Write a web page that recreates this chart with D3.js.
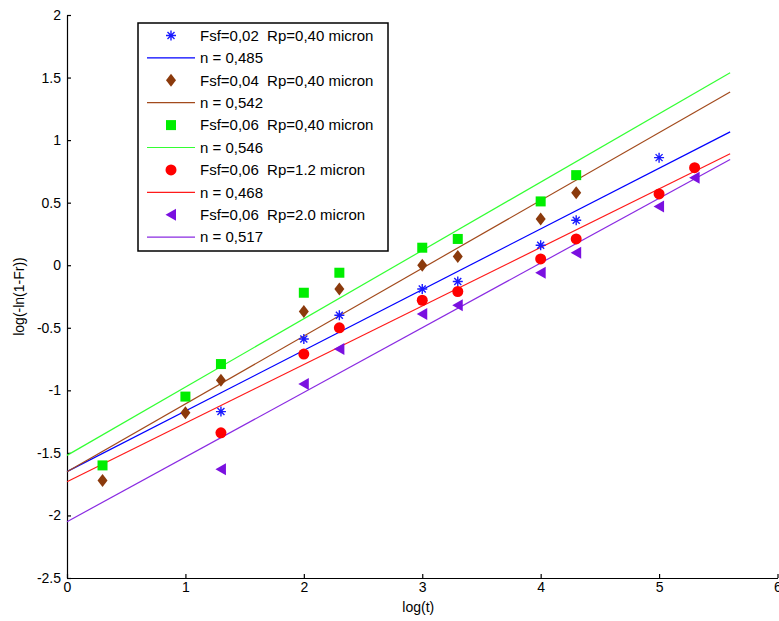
<!DOCTYPE html>
<html>
<head>
<meta charset="utf-8">
<script src="https://cdn.jsdelivr.net/npm/d3@7"></script>
<style>
  body { margin: 0; background: #fff; }
  svg { font-family: "Liberation Sans", Arial, sans-serif; }
</style>
</head>
<body>
<svg width="779" height="621"></svg>
<script>
// measured points, log(t) vs log(-ln(1-Fr))
let tBlue = [1.3, 2, 2.3, 3, 3.3, 4, 4.3, 5];
let yBlue = [-1.17, -0.59, -0.40, -0.19, -0.13, 0.16, 0.36, 0.86];

let tBrown = [0.3, 1, 1.3, 2, 2.3, 3, 3.3, 4, 4.3];
let yBrown = [-1.72, -1.18, -0.92, -0.37, -0.19, 0.0, 0.07, 0.37, 0.58];

let tGreen = [0.3, 1, 1.3, 2, 2.3, 3, 3.3, 4, 4.3];
let yGreen = [-1.60, -1.05, -0.79, -0.22, -0.06, 0.14, 0.21, 0.51, 0.72];

let tRed = [1.3, 2, 2.3, 3, 3.3, 4, 4.3, 5, 5.3];
let yRed = [-1.34, -0.71, -0.50, -0.28, -0.21, 0.05, 0.21, 0.57, 0.78];

let tPurple = [1.3, 2, 2.3, 3, 3.3, 4, 4.3, 5, 5.3];
let yPurple = [-1.63, -0.95, -0.67, -0.39, -0.32, -0.06, 0.10, 0.47, 0.70];

// fitted lines, read at both ends (log t = 0 and 5.6)
let fitT = [0, 5.6];
let fitBlue = [-1.65, 1.066];
let fitBrown = [-1.65, 1.385];
let fitGreen = [-1.52, 1.538];
let fitRed = [-1.73, 0.891];
let fitPurple = [-2.05, 0.845];

let legendLabels = [
  "Fsf=0,02  Rp=0,40 micron", "n = 0,485",
  "Fsf=0,04  Rp=0,40 micron", "n = 0,542",
  "Fsf=0,06  Rp=0,40 micron", "n = 0,546",
  "Fsf=0,06  Rp=1.2 micron", "n = 0,468",
  "Fsf=0,06  Rp=2.0 micron", "n = 0,517"
];

let xTicks = [0, 1, 2, 3, 4, 5, 6];
let yTicks = [-2.5, -2, -1.5, -1, -0.5, 0, 0.5, 1, 1.5, 2];

let series = [
  { t: tBlue, y: yBlue, fit: fitBlue, mark: "star", fill: "#1a1aff", line: "#0000ff" },
  { t: tBrown, y: yBrown, fit: fitBrown, mark: "diamond", fill: "#8b3a0c", line: "#a24a1c" },
  { t: tGreen, y: yGreen, fit: fitGreen, mark: "square", fill: "#00ee00", line: "#33ff33" },
  { t: tRed, y: yRed, fit: fitRed, mark: "circle", fill: "#ff0000", line: "#ff1a1a" },
  { t: tPurple, y: yPurple, fit: fitPurple, mark: "triangle", fill: "#7a10e0", line: "#8a2be2" }
];

let svg = d3.select("svg"),
  margin = { top: 15, right: 1.5, bottom: 43, left: 67 },
  width = +svg.attr("width") - margin.left - margin.right,
  height = +svg.attr("height") - margin.top - margin.bottom;

let x = d3.scaleLinear().domain([0, 6]).range([0, width]),
  y = d3.scaleLinear().domain([-2.5, 2]).range([height, 0]);

let g = svg.append("g")
  .attr("transform", "translate(" + margin.left + "," + margin.top + ")");

// axes, ticks pointing inward
let xAxis = g.append("g")
  .attr("transform", "translate(0," + height + ")")
  .call(d3.axisBottom(x).tickValues(xTicks).tickFormat(d3.format("d"))
    .tickSizeInner(-4).tickSizeOuter(0).tickPadding(4));

let yAxis = g.append("g")
  .call(d3.axisLeft(y).tickValues(yTicks).tickFormat(function (d) { return String(d); })
    .tickSizeInner(-4).tickSizeOuter(0).tickPadding(6));

[xAxis, yAxis].forEach(function (a) {
  a.selectAll("path").attr("stroke", "#000").attr("stroke-width", 1.2);
  a.selectAll("line").attr("stroke", "#000").attr("stroke-width", 1.2);
  a.selectAll("text").attr("fill", "#000").style("font-size", "14px");
});

svg.append("text")
  .attr("x", margin.left + width / 2 - 4)
  .attr("y", 612)
  .attr("text-anchor", "middle")
  .style("font-size", "14px")
  .text("log(t)");

svg.append("text")
  .attr("transform", "translate(24," + (margin.top + height / 2) + ") rotate(-90)")
  .attr("text-anchor", "middle")
  .style("font-size", "14px")
  .text("log(-ln(1-Fr))");

// marker shapes
function marker(sel, kind, color) {
  if (kind === "star") {
    sel.append("path")
      .attr("d", "M-5,0H5M0,-5V5M-3.5,-3.5L3.5,3.5M-3.5,3.5L3.5,-3.5")
      .attr("stroke", color).attr("stroke-width", 1.4).attr("fill", "none");
  } else if (kind === "diamond") {
    sel.append("path").attr("d", "M0,-6.5L5,0L0,6.5L-5,0Z").attr("fill", color);
  } else if (kind === "square") {
    sel.append("rect").attr("x", -5).attr("y", -5).attr("width", 10).attr("height", 10).attr("fill", color);
  } else if (kind === "circle") {
    sel.append("circle").attr("r", 5.5).attr("fill", color);
  } else {
    sel.append("path").attr("d", "M-5.5,0L5,-6L5,6Z").attr("fill", color);
  }
}

let line = d3.line()
  .x(function (d) { return x(d[0]); })
  .y(function (d) { return y(d[1]); });

series.forEach(function (s) {
  g.append("path")
    .datum(fitT.map(function (t, i) { return [t, s.fit[i]]; }))
    .attr("d", line)
    .attr("fill", "none")
    .attr("stroke", s.line)
    .attr("stroke-width", 1.2);
});

series.forEach(function (s) {
  g.selectAll(null)
    .data(s.t.map(function (t, i) { return [t, s.y[i]]; }))
    .enter()
    .append("g")
    .attr("transform", function (d) { return "translate(" + x(d[0]) + "," + y(d[1]) + ")"; })
    .each(function () { marker(d3.select(this), s.mark, s.fill); });
});

// legend
let legend = svg.append("g").attr("transform", "translate(138,23)");
legend.append("rect")
  .attr("width", 250).attr("height", 228)
  .attr("fill", "#fff").attr("stroke", "#000").attr("stroke-width", 1.5);

legendLabels.forEach(function (label, i) {
  let s = series[Math.floor(i / 2)],
    cy = 12.5 + i * 22.4;
  if (i % 2 === 0) {
    marker(legend.append("g").attr("transform", "translate(33," + cy + ")"), s.mark, s.fill);
  } else {
    legend.append("line")
      .attr("x1", 9).attr("x2", 57).attr("y1", cy).attr("y2", cy)
      .attr("stroke", s.line).attr("stroke-width", 1.2);
  }
  legend.append("text")
    .attr("x", 62).attr("y", cy + 5.3)
    .style("font-size", "15px")
    .style("white-space", "pre")
    .text(label);
});
</script>
</body>
</html>
